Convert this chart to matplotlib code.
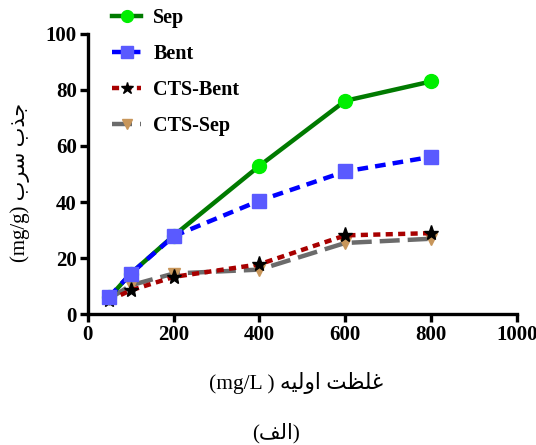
import matplotlib
matplotlib.use('Agg')
import matplotlib.pyplot as plt

# initial concentration (mg/L)
conc = [50, 100, 200, 400, 600, 800]

# lead uptake (mg/g) per adsorbent
sep = [6.0, 14.5, 28.0, 52.9, 76.1, 83.0]
bent = [6.2, 14.5, 27.8, 40.5, 50.9, 56.1]
cts_bent = [5.0, 8.5, 13.3, 17.8, 28.1, 28.9]
cts_sep = [5.5, 10.3, 14.5, 15.9, 25.4, 26.9]

labels = ['Sep', 'Bent', 'CTS-Bent', 'CTS-Sep']
x_ticks = [0, 200, 400, 600, 800, 1000]
y_ticks = [0, 20, 40, 60, 80, 100]

# Persian labels, pre-shaped with presentation forms in visual (LTR) order
fa_uptake = '\uFE8F\uFEAE\uFEB3 \uFE8F\uFEAC\uFE9F'            # jazb-e sorb
fa_conc = '\uFEEA\uFEF4\uFEDF\uFEED\uFE8D \uFE96\uFEC8\uFEE0\uFECF'  # ghelzat-e avalie
fa_panel = '(\uFED2\uFEDF\uFE8D)'

serif = ['Liberation Serif', 'DejaVu Sans']
plt.rcParams['font.family'] = serif

fig = plt.figure(figsize=(5.36, 4.45), dpi=100)
ax = fig.add_axes([0.164, 0.294, 0.800, 0.630])

lw = 3.2
ax.plot(conc, cts_sep, color='#6b6b6b', lw=lw, dashes=(4.5, 1.8), marker='v',
        ms=9, mfc='#c8965a', mec='#c8965a', label=labels[3], zorder=2)
ax.plot(conc, cts_bent, color='#a80000', lw=lw, dashes=(1.6, 1.2), marker='*',
        ms=11, mfc='black', mec='black', label=labels[2], zorder=3)
ax.plot(conc, sep, color='#007a00', lw=lw, marker='o', ms=10,
        mfc='#00ee00', mec='#00ee00', label=labels[0], zorder=4)
ax.plot(conc, bent, color='#0000ff', lw=lw, dashes=(2.4, 1.6), marker='s',
        ms=10, mfc='#5a5aff', mec='#5a5aff', label=labels[1], zorder=5)

ax.set_xlim(0, 1000)
ax.set_ylim(0, 100)
ax.set_xticks(x_ticks)
ax.set_yticks(y_ticks)
for s in ['top', 'right']:
    ax.spines[s].set_visible(False)
for s in ['left', 'bottom']:
    ax.spines[s].set_linewidth(2.4)
ax.tick_params(width=2.4, length=6, labelsize=15, pad=2)
for t in ax.get_xticklabels() + ax.get_yticklabels():
    t.set_fontweight('bold')

handles, lbls = ax.get_legend_handles_labels()
order = [lbls.index(l) for l in labels]
fig.legend([handles[i] for i in order], labels, loc='upper left',
           bbox_to_anchor=(0.209, 0.981), frameon=False, borderpad=0,
           borderaxespad=0,
           prop={'family': serif, 'weight': 'bold', 'size': 14.5},
           handlelength=1.45, labelspacing=0.78, handletextpad=0.6,
           markerscale=0.85)

fig.text(0.038, 0.589, '(mg/g) ' + fa_uptake, rotation=90,
         ha='center', va='center', fontsize=15)
fig.text(0.553, 0.139, '(mg/L ) ' + fa_conc, ha='center', va='center',
         fontsize=15.5)
fig.text(0.515, 0.027, fa_panel, ha='center', va='center', fontsize=15)

fig.savefig('out.png', dpi=100)
